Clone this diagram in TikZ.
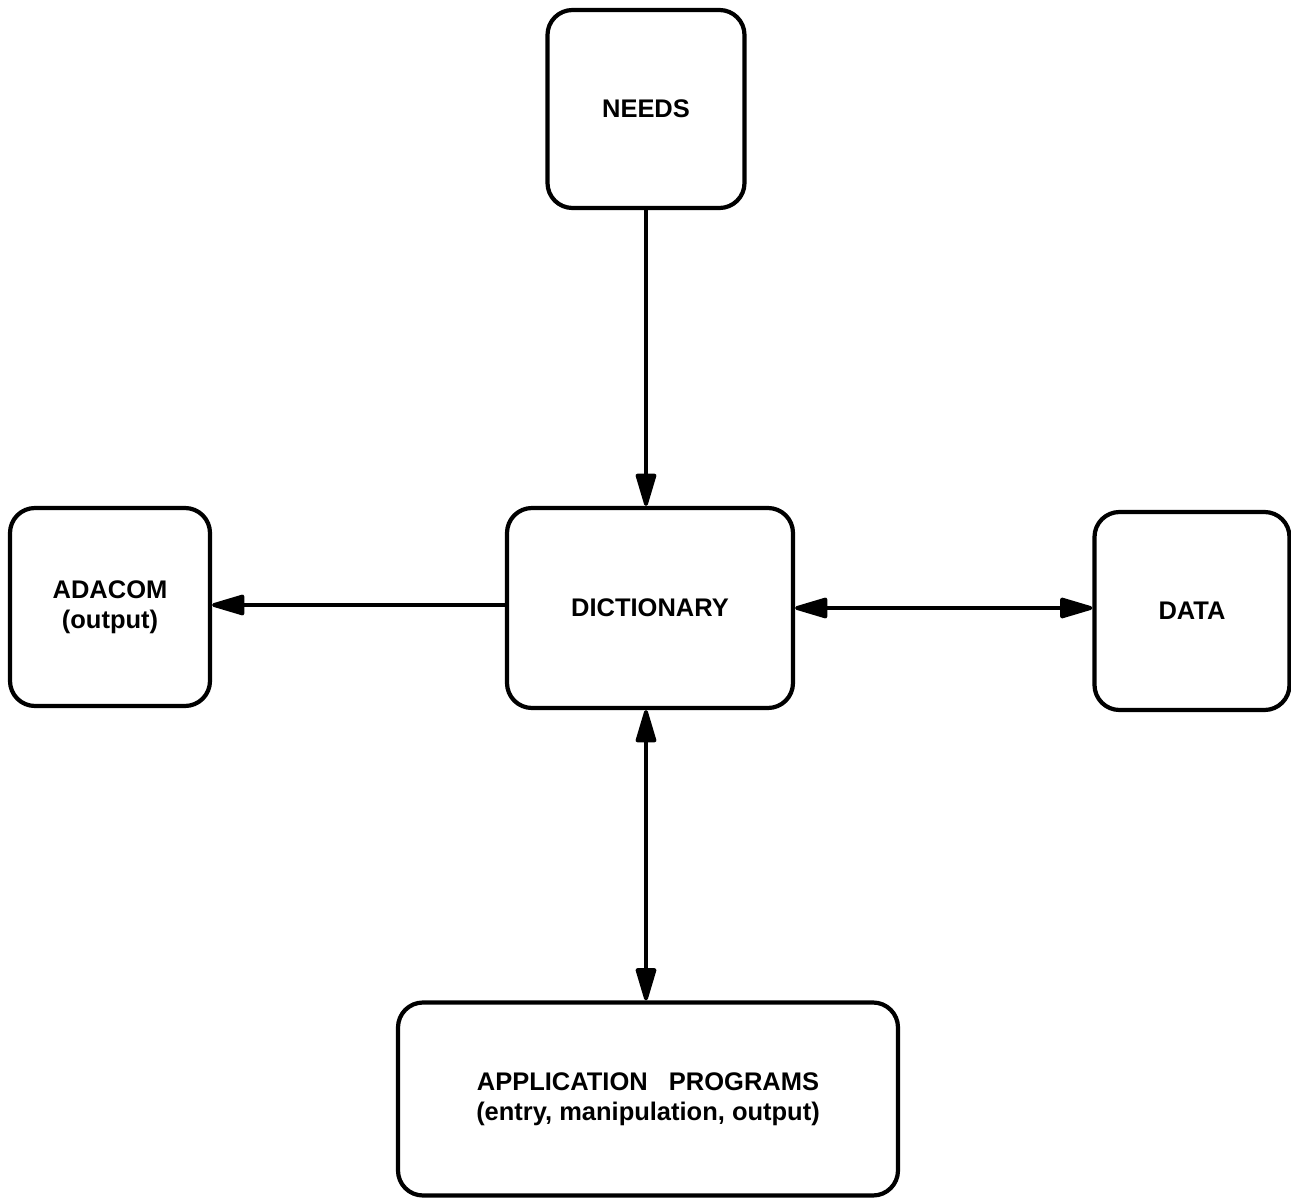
\documentclass[tikz,border=0pt]{standalone}
\usepackage{fontspec}
\setsansfont{Liberation Sans}
\usetikzlibrary{arrows.meta}

\begin{document}
\begin{tikzpicture}[font=\sffamily\bfseries\fontsize{14.5}{17}\selectfont,>={Triangle[length=7.5mm,width=4.2mm,round]},
  box/.style={draw,line width=2.4pt,rounded corners=5mm,align=center,inner sep=0pt},
  link/.style={line width=2.2pt}]
\useasboundingbox (0,0) rectangle (25.82,-24.02);
\node[box,minimum width=3.94cm,minimum height=3.96cm] (needs) at (12.92,-2.18) {NEEDS};
\node[box,minimum width=5.72cm,minimum height=4cm] (dict) at (13,-12.16) {DICTIONARY};
\node[box,minimum width=4cm,minimum height=3.96cm] (adacom) at (2.2,-12.14) {ADACOM\\(output)};
\node[box,minimum width=3.9cm,minimum height=3.96cm] (data) at (23.84,-12.22) {DATA};
\node[box,minimum width=10cm,minimum height=3.86cm] (apps) at (12.96,-21.98) {APPLICATION\ \ \ PROGRAMS\\(entry, manipulation, output)};
\draw[link,->] (needs.south) -- (needs.south |- dict.north);
\draw[link,->] (dict.west |- 0,-12.1) -- (adacom.east |- 0,-12.1);
\draw[link,<->] (dict.east |- 0,-12.16) -- (data.west |- 0,-12.16);
\draw[link,<->] (needs.south |- dict.south) -- (needs.south |- apps.north);
\end{tikzpicture}
\end{document}
